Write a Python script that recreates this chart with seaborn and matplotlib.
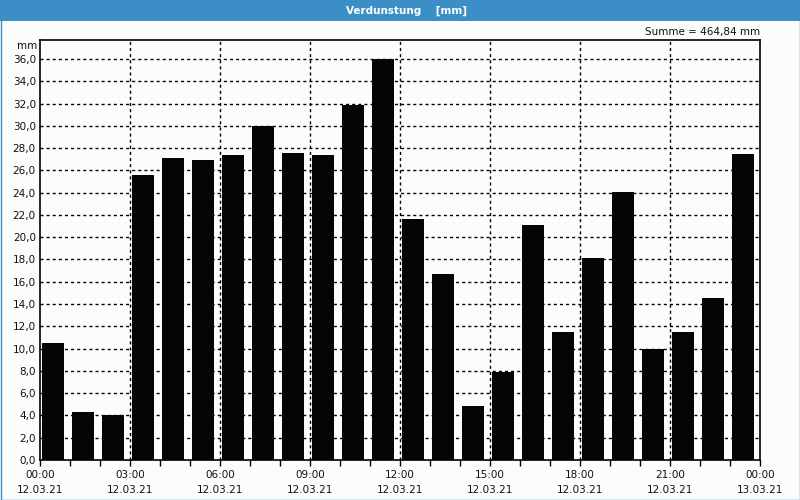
import matplotlib
matplotlib.use("Agg")
import matplotlib.pyplot as plt
from matplotlib.patches import Rectangle
import seaborn as sns
import pandas as pd
import numpy as np

hours = list(range(24))
values = [10.5, 4.3, 4.0, 25.6, 27.1, 26.9, 27.4, 30.0, 27.6, 27.4, 31.9, 36.0,
          21.6, 16.7, 4.85, 7.9, 21.1, 11.5, 18.1, 24.1, 10.0, 11.5, 14.5, 27.5]
tick_hours = [0, 3, 6, 9, 12, 15, 18, 21, 24]
tick_labels = ["00:00\n12.03.21", "03:00\n12.03.21", "06:00\n12.03.21",
               "09:00\n12.03.21", "12:00\n12.03.21", "15:00\n12.03.21",
               "18:00\n12.03.21", "21:00\n12.03.21", "00:00\n13.03.21"]
y_ticks = list(np.arange(0, 37, 2))
title = "Verdunstung    [mm]"
summe = "Summe = 464,84 mm"

sns.set_theme(style="white")
plt.rcParams['font.family'] = ['DejaVu Sans']

fig = plt.figure(figsize=(8, 5), dpi=100, facecolor="#fcfcfc")
ax = fig.add_axes([40/800, 40/500, 720/800, 420/500])
ax.set_facecolor("#fcfcfc")

df = pd.DataFrame({"hour": hours, "value": values})
sns.barplot(data=df, x="hour", y="value", color="#050505", width=0.73,
            saturation=1, ax=ax, linewidth=0, zorder=3)

off = 0.43
ax.set_xlim(-off, 24 - off)
ax.set_ylim(0, 37.7)

ax.set_xticks([h - off for h in tick_hours])
ax.set_xticklabels(tick_labels, fontsize=7.5, color="#111111", linespacing=1.6)
ax.set_xticks([h - off for h in hours], minor=True)
ax.tick_params(axis="x", which="both", direction="out", length=4, width=1,
               color="black", pad=3, bottom=True)
ax.set_yticks(y_ticks)
ax.set_yticklabels([f"{v:.1f}".replace(".", ",") for v in y_ticks],
                   fontsize=7.5, color="#111111")
ax.tick_params(axis="y", length=0, pad=3)
ax.set_xlabel("")
ax.set_ylabel("")

for y in y_ticks[1:]:
    ax.axhline(y, color="black", lw=1, ls=(0, (2.2, 2.2)), zorder=1)
for h in tick_hours[1:-1]:
    ax.axvline(h - off, color="black", lw=1, ls=(0, (2.2, 2.2)), zorder=1)

for s in ax.spines.values():
    s.set_color("black")
    s.set_linewidth(1.2)
    s.set_visible(True)
    s.set_zorder(4)

# header bar
fig.patches.append(Rectangle((0, 1 - 21/500), 1, 21/500, transform=fig.transFigure,
                             facecolor="#3c8fc6", edgecolor="none", zorder=0))
fig.patches.append(Rectangle((0.5/800, 0.5/500), 799/800, 499/500, transform=fig.transFigure,
                             facecolor="none", edgecolor="#3c8fc6", lw=1, zorder=5))
fig.text(407/800, 1 - 10.5/500, title, color="white", fontsize=7.5, fontweight="bold",
         ha="center", va="center")
fig.text(760/800, 1 - 32/500, summe, fontsize=7.5, color="#111111",
         ha="right", va="center")
fig.text(37/800, 1 - 46/500, "mm", fontsize=7.5, color="#111111",
         ha="right", va="center")

fig.savefig("out.png", dpi=100, facecolor=fig.get_facecolor())
